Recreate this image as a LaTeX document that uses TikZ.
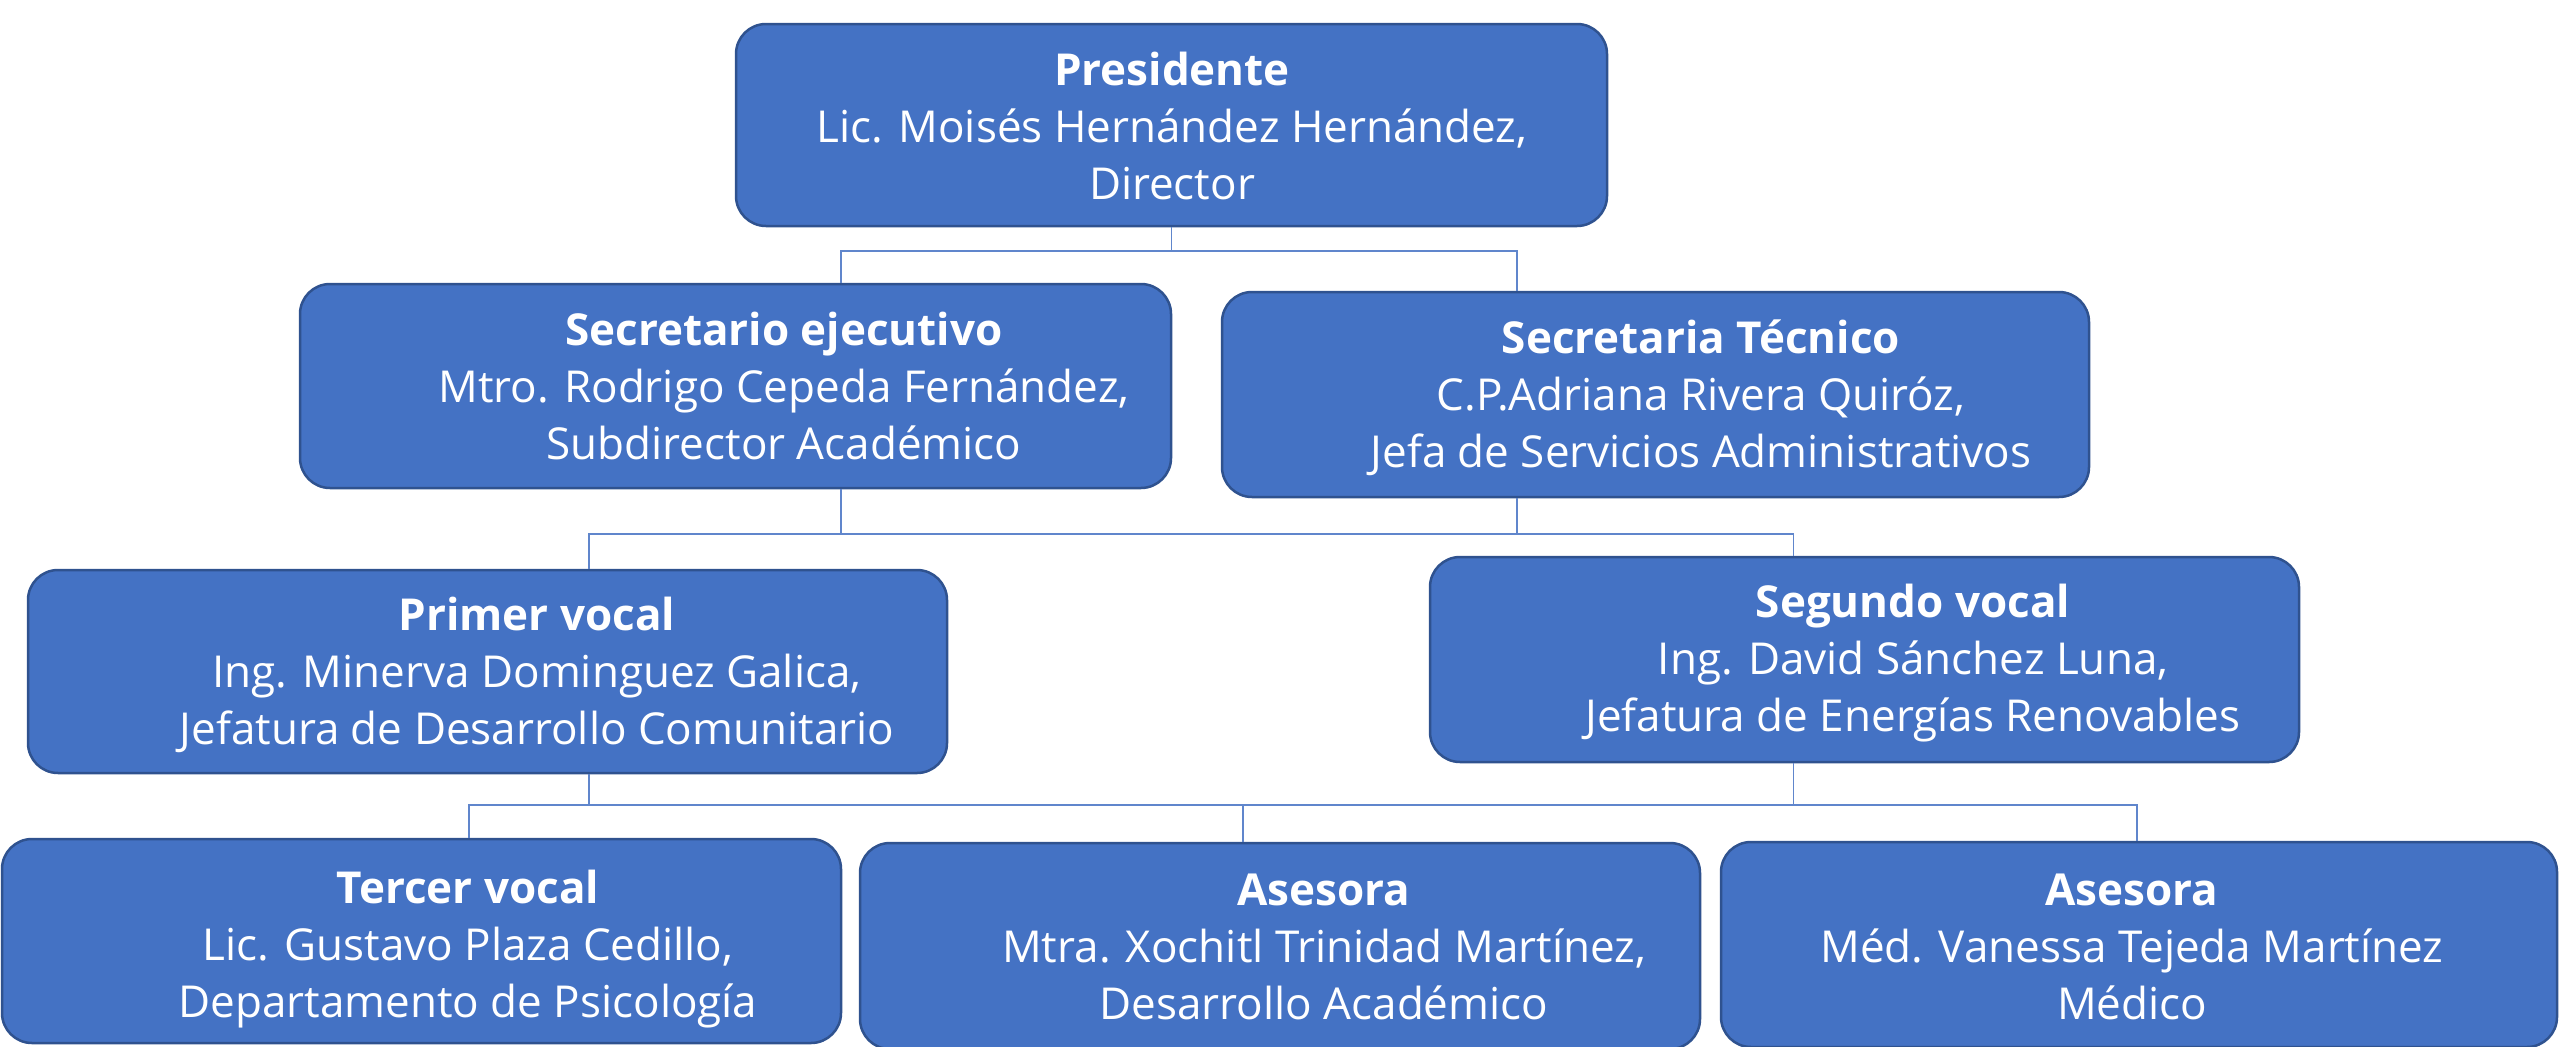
\documentclass[tikz,border=0pt]{standalone}
\usepackage{fontspec}
\setmainfont{Open Sans}
\definecolor{boxfill}{RGB}{68,114,196}
\definecolor{boxline}{RGB}{47,82,143}
\definecolor{connc}{RGB}{96,134,204}
\tikzset{
  box/.style={draw=boxline, fill=boxfill, line width=2.5pt, rounded corners=30pt, inner sep=0pt},
  conn/.style={draw=connc, line width=1.6pt},
  lbl/.style={text=white, align=center, inner sep=0pt, font=\fontsize{44}{57}\selectfont}
}
\begin{document}
\begin{tikzpicture}[x=1pt,y=-1pt]
\useasboundingbox (0,0) rectangle (2560,1047);
% boxes
\node[box, minimum width=871pt, minimum height=202pt] (pres) at (1171.5,125) {};
\node[box, minimum width=871pt, minimum height=204pt] (sej) at (735.5,386) {};
\node[box, minimum width=867pt, minimum height=205pt] (stec) at (1655.5,394.5) {};
\node[box, minimum width=919pt, minimum height=203pt] (pv) at (487.5,671.5) {};
\node[box, minimum width=869pt, minimum height=205pt] (sv) at (1864.5,659.5) {};
\node[box, minimum width=839pt, minimum height=204pt] (tv) at (421.5,941) {};
\node[box, minimum width=840pt, minimum height=206pt] (as1) at (1280,946) {};
\node[box, minimum width=836pt, minimum height=205pt] (as2) at (2139,944.5) {};
% labels
\node[lbl] (tpres) at (1172,130.6) {\strut\textbf{Presidente}\\\strut Lic. Moisés Hernández Hernández,\\\strut Director};
\node[lbl] (tsej) at (784,390.6) {\strut\textbf{Secretario ejecutivo}\\\strut Mtro. Rodrigo Cepeda Fernández,\\\strut Subdirector Académico};
\node[lbl] (tstec) at (1701,398.6) {\strut\textbf{Secretaria Técnico}\\\strut C.P.Adriana Rivera Quiróz,\\\strut Jefa de Servicios Administrativos};
\node[lbl] (tpv) at (537,675.6) {\strut\textbf{Primer vocal}\\\strut Ing. Minerva Dominguez Galica,\\\strut Jefatura de Desarrollo Comunitario};
\node[lbl] (tsv) at (1913,662.6) {\strut\textbf{Segundo vocal}\\\strut Ing. David Sánchez Luna,\\\strut Jefatura de Energías Renovables};
\node[lbl] (ttv) at (468,948.6) {\strut\textbf{Tercer vocal}\\\strut Lic. Gustavo Plaza Cedillo,\\\strut Departamento de Psicología};
\node[lbl] (tas1) at (1324,950.6) {\strut\textbf{Asesora}\\\strut Mtra. Xochitl Trinidad Martínez,\\\strut Desarrollo Académico};
\node[lbl] (tas2) at (2132,950.6) {\strut\textbf{Asesora}\\\strut Méd. Vanessa Tejeda Martínez\\\strut Médico};
% anchor coordinates on box borders
\coordinate (sejT) at ([xshift=105.5pt]sej.north);
\coordinate (sejB) at ([xshift=105.5pt]sej.south);
\coordinate (stecT) at ([xshift=-138.5pt]stec.north);
\coordinate (stecB) at ([xshift=-138.5pt]stec.south);
\coordinate (pvT) at ([xshift=101.5pt]pv.north);
\coordinate (pvB) at ([xshift=101.5pt]pv.south);
\coordinate (svT) at ([xshift=-71pt]sv.north);
\coordinate (svB) at ([xshift=-71pt]sv.south);
\coordinate (tvT) at ([xshift=47.5pt]tv.north);
\coordinate (as1T) at ([xshift=-37pt]as1.north);
\coordinate (as2T) at ([xshift=-2pt]as2.north);
% connectors
\draw[conn] (pres.south) -- ++(0,24) coordinate (j1);
\draw[conn] (sejT) |- (j1) -| (stecT);
\draw[conn] (sejB) -- ++(0,45) coordinate (j2);
\draw[conn] (stecB) -- (stecB |- j2);
\draw[conn] (pvT) |- (j2) -| (svT);
\draw[conn] (pvB) -- ++(0,31) coordinate (j3);
\draw[conn] (svB) -- (svB |- j3);
\draw[conn] (tvT) |- (j3) -| (as2T);
\draw[conn] (as1T) -- (as1T |- j3);
\end{tikzpicture}
\end{document}
